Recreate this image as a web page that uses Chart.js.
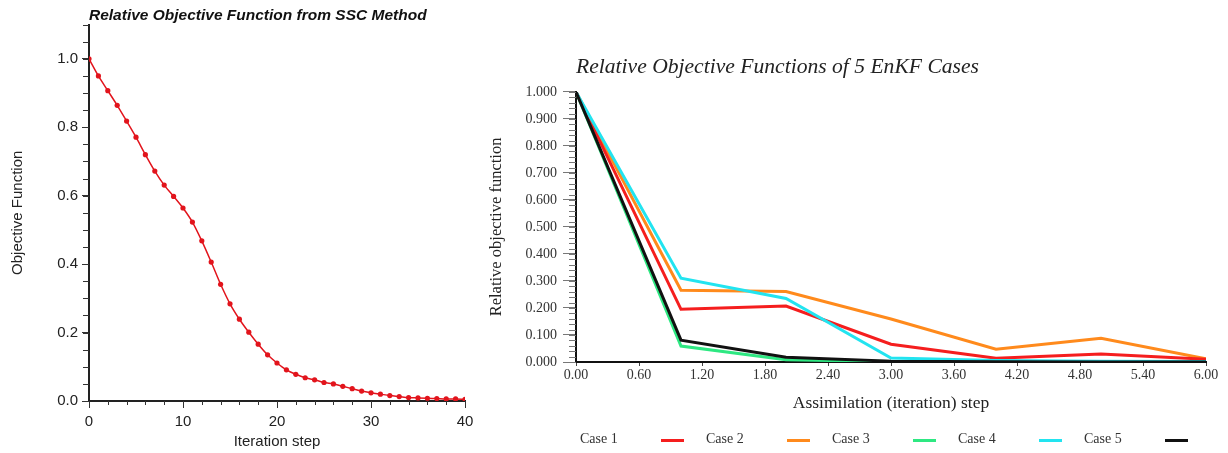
<!DOCTYPE html>
<html>
<head>
<meta charset="utf-8">
<script src="https://cdn.jsdelivr.net/npm/chart.js@4/dist/chart.umd.min.js"></script>
<style>
body{margin:0;background:#fff;width:1228px;height:453px;overflow:hidden;position:relative}
#ssc{position:absolute;left:0;top:0}
#enkf{position:absolute;left:480px;top:0}
#legend{position:absolute;left:580px;top:431px;font:14px "Liberation Serif","Times New Roman",serif;color:#333}
.li{position:absolute;top:0;height:18px;white-space:nowrap}
.sw{position:absolute;left:81px;top:8px;width:23px;height:3px}
</style>
</head>
<body>
<canvas id="ssc" width="480" height="453"></canvas>
<canvas id="enkf" width="748" height="453"></canvas>
<div id="legend"></div>
<script>
'use strict';
const SANS='"Liberation Sans",Arial,sans-serif',SERIF='"Liberation Serif","Times New Roman",serif';

// left: SSC method
const ITER=[0,1,2,3,4,5,6,7,8,9,10,11,12,13,14,15,16,17,18,19,20,21,22,23,24,25,26,27,28,29,30,31,32,33,34,35,36,37,38,39,40];
const OBJ=[1.0,0.95,0.907,0.864,0.818,0.771,0.72,0.672,0.631,0.598,0.564,0.523,0.468,0.406,0.341,0.284,0.239,0.201,0.166,0.135,0.111,0.091,0.078,0.068,0.062,0.054,0.05,0.043,0.036,0.029,0.024,0.02,0.016,0.013,0.01,0.009,0.008,0.007,0.006,0.006,0.005];

// right: EnKF cases
const STEPS=[0,1,2,3,4,5,6];
const CASES=['Case 1','Case 2','Case 3','Case 4','Case 5'];
const CASE1=[1.0,0.195,0.207,0.066,0.014,0.030,0.010];
const CASE2=[1.0,0.266,0.261,0.159,0.047,0.088,0.012];
const CASE3=[1.0,0.059,0.008,0.002,0.001,0.001,0.001];
const CASE4=[1.0,0.310,0.235,0.015,0.006,0.003,0.002];
const CASE5=[1.0,0.081,0.018,0.003,0.001,0.0,0.0];
const COLORS=['#f51e1e','#ff8a1c','#2ee882','#22e4f0','#111111'];
const ORDER=[3,4,5,2,1];

const minorTicks={id:'minorTicks',afterDraw(chart,args,opts){
  const ctx=chart.ctx;
  (opts.list||[]).forEach(m=>{
    const s=chart.scales[m.axis];
    const n=Math.round((s.max-s.min)/m.step);
    ctx.save();ctx.strokeStyle=m.color;ctx.lineWidth=1;ctx.beginPath();
    for(let i=0;i<=n;i++){
      const p=Math.round(s.getPixelForValue(s.min+i*m.step))+0.5;
      if(s.isHorizontal()){ctx.moveTo(p,s.top);ctx.lineTo(p,s.top+m.len);}
      else{ctx.moveTo(s.right-m.len,p);ctx.lineTo(s.right,p);}
    }
    ctx.stroke();ctx.restore();
  });
}};

new Chart(document.getElementById('ssc'),{
  type:'line',
  data:{datasets:[{data:ITER.map((x,i)=>({x,y:OBJ[i]})),borderColor:'#e2141c',borderWidth:1.5,pointRadius:2.6,pointBackgroundColor:'#e2141c',pointBorderWidth:0,cubicInterpolationMode:'monotone'}]},
  options:{responsive:false,animation:false,layout:{padding:{right:15}},
    plugins:{legend:{display:false},tooltip:{enabled:false},
      title:{display:true,text:'Relative Objective Function from SSC Method',align:'start',fullSize:false,color:'#111',font:{family:SANS,size:15.5,weight:'bold',style:'italic'},padding:{top:6,bottom:0}},
      minorTicks:{list:[{axis:'x',step:2,len:4,color:'#333'},{axis:'y',step:0.05,len:6,color:'#333'}]}},
    scales:{
      x:{type:'linear',min:0,max:40,afterFit(s){s.height=52;},border:{color:'#222',width:2},
        grid:{drawOnChartArea:false,tickLength:7,tickColor:'#333'},
        ticks:{stepSize:10,padding:5,color:'#222',font:{family:SANS,size:15}},
        title:{display:true,text:'Iteration step',color:'#222',font:{family:SANS,size:15},padding:{top:0,bottom:2}}},
      y:{min:0,max:1.1,afterFit(s){s.width=89;},border:{color:'#222',width:2},
        grid:{drawOnChartArea:false,tickLength:7,tickColor:'#333'},
        ticks:{stepSize:0.2,includeBounds:false,padding:4,color:'#222',font:{family:SANS,size:15},callback:v=>v.toFixed(1)},
        title:{display:true,text:'Objective Function',color:'#222',font:{family:SANS,size:15},padding:{top:9,bottom:0}}}
    }},
  plugins:[minorTicks]
});

const SERIES=[CASE1,CASE2,CASE3,CASE4,CASE5];
new Chart(document.getElementById('enkf'),{
  type:'line',
  data:{datasets:SERIES.map((d,k)=>({label:CASES[k],data:STEPS.map((x,i)=>({x,y:d[i]})),borderColor:COLORS[k],borderWidth:3,pointRadius:0,tension:0,order:ORDER[k]}))},
  options:{responsive:false,animation:false,layout:{padding:{right:22}},
    plugins:{legend:{display:false},tooltip:{enabled:false},
      title:{display:true,text:'Relative Objective Functions of 5 EnKF Cases',align:'start',fullSize:false,color:'#222',font:{family:SERIF,size:21.6,weight:'normal',style:'italic'},padding:{top:54,bottom:12}},
      minorTicks:{list:[{axis:'y',step:0.02,len:7,color:'#777'}]}},
    scales:{
      x:{type:'linear',min:0,max:6,afterFit(s){s.height=91;},border:{color:'#111',width:2},
        grid:{drawOnChartArea:false,tickLength:4,tickColor:'#444'},
        ticks:{stepSize:0.6,padding:1,color:'#333',font:{family:SERIF,size:14},callback:v=>v.toFixed(2)},
        title:{display:true,text:'Assimilation (iteration) step',color:'#222',font:{family:SERIF,size:17.5},padding:{top:0,bottom:39}}},
      y:{min:0,max:1,afterFit(s){s.width=96;},border:{color:'#111',width:2},
        grid:{drawOnChartArea:false,tickLength:13,tickColor:'#777'},
        ticks:{stepSize:0.1,padding:6,color:'#333',font:{family:SERIF,size:14},callback:v=>v.toFixed(3)},
        title:{display:true,text:'Relative objective function',color:'#222',font:{family:SERIF,size:16.5},padding:{top:7,bottom:0}}}
    }},
  plugins:[minorTicks]
});

// legend: label first, line sample after it
const lg=document.getElementById('legend');
CASES.forEach((c,k)=>{
  const it=document.createElement('div');it.className='li';it.style.left=(k*126)+'px';
  it.innerHTML='<span>'+c+'</span><span class="sw" style="background:'+COLORS[k]+'"></span>';
  lg.appendChild(it);
});
</script>
</body>
</html>
